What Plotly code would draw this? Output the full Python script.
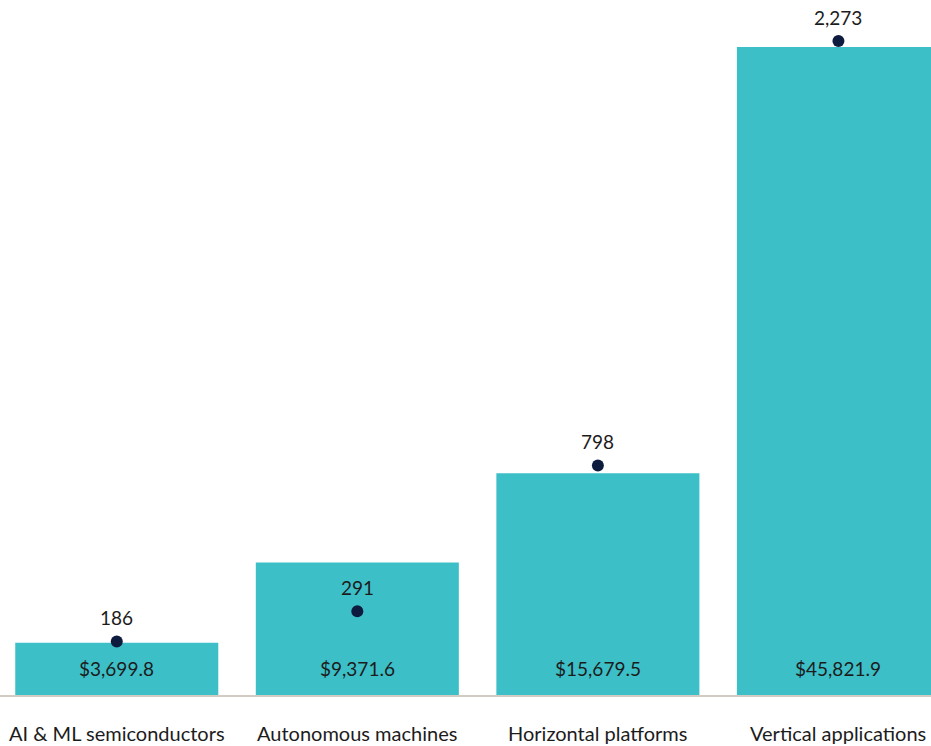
import plotly.graph_objects as go

categories = ["AI & ML semiconductors", "Autonomous machines", "Horizontal platforms", "Vertical applications"]
deal_value = [3699.8, 9371.6, 15679.5, 45821.9]
deal_count = [186, 291, 798, 2273]
value_labels = ["$3,699.8", "$9,371.6", "$15,679.5", "$45,821.9"]
count_labels = ["186", "291", "798", "2,273"]

FONT = "Lato"
BAR = "#3dbfc8"
DOT = "#0d1b3e"
TXT = "#1c1c1c"

xs = list(range(len(categories)))

fig = go.Figure()
fig.add_trace(go.Bar(x=xs, y=deal_value, width=0.844, marker=dict(color=BAR, line=dict(width=0)),
                     hoverinfo="skip", showlegend=False))
fig.add_trace(go.Scatter(x=xs, y=deal_count, yaxis="y2", mode="markers",
                         marker=dict(size=12, color=DOT), cliponaxis=False,
                         hoverinfo="skip", showlegend=False))

for i, lab in enumerate(count_labels):
    fig.add_annotation(x=xs[i], y=deal_count[i], yref="y2", text=lab, showarrow=False,
                       yanchor="middle", yshift=24,
                       font=dict(family=FONT, size=19, color=TXT))
for i, lab in enumerate(value_labels):
    fig.add_annotation(x=xs[i], y=0, yref="y", text=lab, showarrow=False,
                       yanchor="middle", yshift=27,
                       font=dict(family=FONT, size=19, color=TXT))
for i, lab in enumerate(categories):
    fig.add_annotation(x=xs[i], y=0, yref="y", text=lab, showarrow=False,
                       yanchor="middle", yshift=-38,
                       font=dict(family=FONT, size=20, color=TXT))

H = 665
fig.update_layout(
    width=931, height=746,
    margin=dict(l=0, r=0, t=30, b=51),
    plot_bgcolor="white", paper_bgcolor="white",
    xaxis=dict(range=[-0.4854, 3.3848], showticklabels=False, showgrid=False, zeroline=False,
               showline=True, linecolor="#d3ccc4", linewidth=1.5, ticks=""),
    yaxis=dict(range=[0, 45821.9 * H / 648], visible=False, showgrid=False),
    yaxis2=dict(range=[0, 2273 * H / 654], overlaying="y", visible=False, showgrid=False),
)
fig.write_html("out.html")
